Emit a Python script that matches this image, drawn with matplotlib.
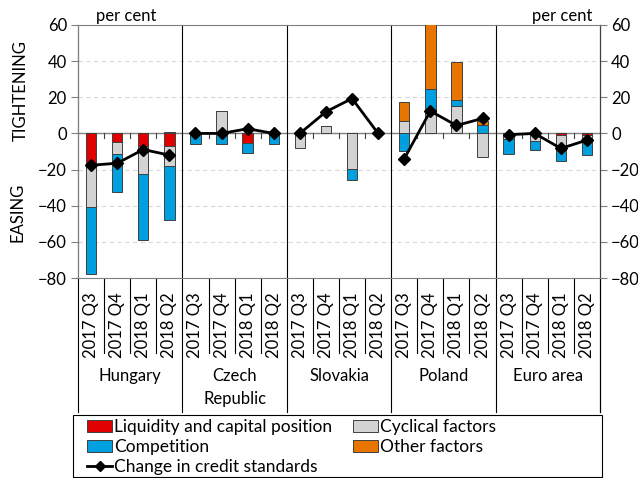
import numpy as np
import matplotlib
matplotlib.use("Agg")
import matplotlib.pyplot as plt
import matplotlib.transforms as mtransforms
from matplotlib.patches import Patch, Rectangle
from matplotlib.lines import Line2D

plt.rcParams['font.family'] = ['Lato', 'DejaVu Sans']
plt.rcParams['font.size'] = 11.5

# data
groups = ['Hungary', 'Czech\nRepublic', 'Slovakia', 'Poland', 'Euro area']
quarters = ['2017 Q3', '2017 Q4', '2018 Q1', '2018 Q2']

liquidity = [-17.5, -4.5, -7.0, -6.7,
             0, 0, -5.2, 0,
             0, 0, 0, 0,
             0, 0, 0, 0,
             0, 0, -1.1, -1.0]
cyclical = [-23.0, -6.8, -15.4, -11.3,
            0, 12.6, 0, 0,
            -8.3, 3.9, -19.6, 0,
            7.0, 13.0, 15.2, -13.1,
            -3.0, -4.3, -8.2, -3.3]
competition = [-37.5, -21.3, -36.5, -30.0,
               -5.7, -5.7, -5.7, -5.7,
               0, 0, -6.0, 0,
               -9.8, 11.8, 3.5, 4.6,
               -8.5, -4.6, -5.9, -7.6]
other = [0, 0, 0, 0.8,
         0, 0, 0, 0,
         0, 0, 0, 0,
         10.2, 40.0, 20.6, 2.3,
         0, 0, 0, 0]
change = [-17.6, -16.5, -8.9, -12.0,
          0, 0, 2.6, 0,
          0, 12.0, 19.3, 0,
          -14.0, 12.4, 4.4, 8.3,
          -0.7, 0, -8.3, -3.7]

red = '#E00000'
gray = '#D3D3D3'
blue = '#00A0E0'
orange = '#E87500'

fig = plt.figure(figsize=(6.38, 4.78), dpi=100)
ax = fig.add_axes([0.1223, 0.4184, 0.8181, 0.5293])

n = len(change)
x = np.arange(n)
w = 0.4

series = [(liquidity, red), (cyclical, gray), (competition, blue), (other, orange)]
pos_base = np.zeros(n)
neg_base = np.zeros(n)
for vals, col in series:
    v = np.array(vals, dtype=float)
    base = np.where(v >= 0, pos_base, neg_base)
    ax.bar(x, v, w, bottom=base, color=col, edgecolor='#404040', linewidth=0.7, zorder=3)
    pos_base = pos_base + np.where(v > 0, v, 0)
    neg_base = neg_base + np.where(v < 0, v, 0)

for g in range(len(groups)):
    idx = x[g*4:(g+1)*4]
    ax.plot(idx, change[g*4:(g+1)*4], color='black', lw=2, marker='D', ms=6.5, zorder=5)

ax.set_xlim(-0.5, n - 0.5)
ax.set_ylim(-80, 60)
ax.set_yticks(range(-80, 61, 20))
ax.tick_params(axis='y', which='both', left=True, right=True, labelleft=True, labelright=True,
               direction='out', length=5, color='#808080', labelsize=12, pad=3)
for yv in [-60, -40, -20, 20, 40]:
    ax.axhline(yv, color='#D9D9D9', lw=0.8, ls=(0, (4, 3)), zorder=1)
ax.axhline(0, color='#808080', lw=1.0, zorder=2)
for sp in ['top', 'bottom', 'left']:
    ax.spines[sp].set_color('#808080')
ax.spines['right'].set_color('#404040')
ax.set_xticks([])

# small ticks on zero line
for b in np.arange(0.5, n - 1, 1.0):
    if (b + 0.5) % 4 != 0:
        ax.plot([b, b], [0, -2.5], color='#404040', lw=0.8, zorder=2)

trans = mtransforms.blended_transform_factory(ax.transData, ax.transAxes)
# category table lines
for b in np.arange(-0.5, n, 4.0):
    ax.plot([b, b], [1, -0.53], transform=trans, color='black', lw=0.8, clip_on=False, zorder=2)
ax.plot([n - 0.5, n - 0.5], [0, -0.53], transform=trans, color='black', lw=0.8, clip_on=False)
for b in np.arange(0.5, n - 1, 1.0):
    if (b + 0.5) % 4 != 0:
        ax.plot([b, b], [0, -0.296], transform=trans, color='black', lw=0.8, clip_on=False)

for i in range(n):
    ax.text(x[i], -0.055, quarters[i % 4], transform=trans, rotation=90,
            ha='center', va='top', fontsize=12)
for g, name in enumerate(groups):
    ax.text(g*4 + 1.5, -0.355, name, transform=trans, ha='center', va='top',
            fontsize=12, linespacing=1.55)

ax.text(0.035, 1.005, 'per cent', transform=ax.transAxes, ha='left', va='bottom', fontsize=12)
ax.text(0.985, 1.005, 'per cent', transform=ax.transAxes, ha='right', va='bottom', fontsize=12)
fig.text(0.032, 0.81, 'TIGHTENING', rotation=90, ha='center', va='center', fontsize=12)
fig.text(0.027, 0.556, 'EASING', rotation=90, ha='center', va='center', fontsize=12)

# legend box
fig.add_artist(Rectangle((73/638, 0.003), 529/638, 62/478, transform=fig.transFigure,
                         facecolor='white', edgecolor='black', lw=0.8))
h1 = [Patch(facecolor=red, edgecolor='#404040', lw=0.7),
      Patch(facecolor=blue, edgecolor='#404040', lw=0.7),
      Line2D([], [], color='black', lw=2, marker='D', ms=5.5)]
l1 = ['Liquidity and capital position', 'Competition', 'Change in credit standards']
h2 = [Patch(facecolor=gray, edgecolor='#404040', lw=0.7),
      Patch(facecolor=orange, edgecolor='#404040', lw=0.7)]
l2 = ['Cyclical factors', 'Other factors']
leg_kw = dict(loc='upper left', fontsize=12.5, frameon=False, handlelength=1.45,
              handletextpad=0.1, labelspacing=0.22, borderpad=0, borderaxespad=0)
fig.legend(h1, l1, bbox_to_anchor=(87/638, 1 - 419/478), **leg_kw)
fig.legend(h2, l2, bbox_to_anchor=(353/638, 1 - 419/478), **leg_kw)

fig.savefig('out.png', dpi=100)
